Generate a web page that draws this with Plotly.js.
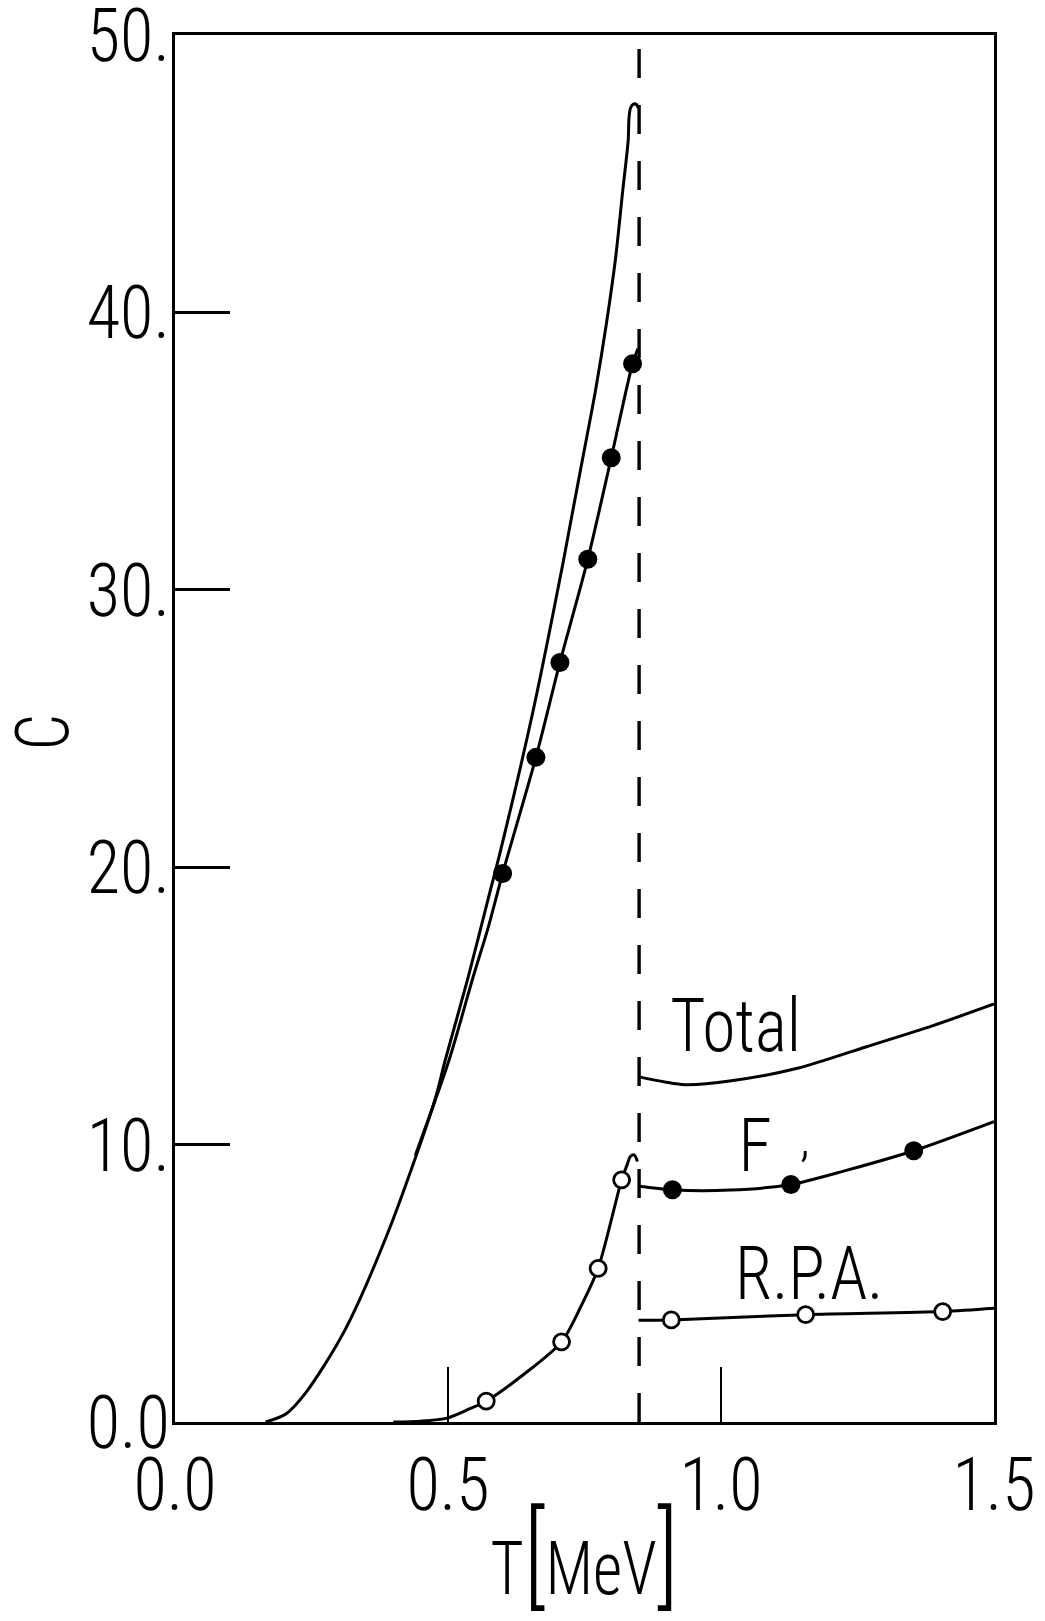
<!DOCTYPE html>
<html>
<head>
<meta charset="utf-8">
<script src="https://cdn.plot.ly/plotly-3.0.1.min.js"></script>
<style>html,body{margin:0;padding:0;background:#fff;}#chart{width:1045px;height:1621px;}</style>
</head>
<body>
<div id="chart"></div>
<script>
// ---- data ----
const totalLeftT = [0.166, 0.203, 0.240, 0.309, 0.390, 0.476, 0.495, 0.537, 0.576, 0.595, 0.656, 0.710, 0.724, 0.747, 0.770, 0.790, 0.807, 0.820, 0.830, 0.8315, 0.834, 0.839, 0.845, 0.849];
const totalLeftC = [0.0, 0.29, 1.07, 3.23, 6.83, 11.61, 13.05, 16.04, 19.05, 20.50, 25.65, 30.90, 32.37, 34.77, 37.17, 39.58, 41.97, 44.38, 46.2, 47.0, 47.35, 47.5, 47.5, 47.35];
const totalRightT = [0.848, 0.897, 0.934, 1.019, 1.142, 1.265, 1.387, 1.5];
const totalRightC = [12.45, 12.26, 12.16, 12.30, 12.76, 13.52, 14.28, 15.07];

const fLeftT = [0.44, 0.502, 0.546, 0.574, 0.600, 0.661, 0.705, 0.756, 0.799, 0.838, 0.848];
const fLeftC = [9.61, 13.05, 16.04, 17.85, 19.77, 23.96, 27.38, 31.10, 34.76, 38.15, 38.7];
const fRightT = [0.848, 0.911, 1.017, 1.128, 1.231, 1.353, 1.5];
const fRightC = [8.51, 8.37, 8.36, 8.56, 9.08, 9.78, 10.83];
const fDotsT = [0.600, 0.661, 0.705, 0.756, 0.799, 0.838, 0.911, 1.128, 1.353];
const fDotsC = [19.77, 23.96, 27.38, 31.10, 34.76, 38.15, 8.37, 8.56, 9.78];

const rpaLeftT = [0.40, 0.45, 0.498, 0.540, 0.570, 0.639, 0.708, 0.745, 0.775, 0.818, 0.828, 0.834, 0.841, 0.847];
const rpaLeftC = [0.0, 0.03, 0.14, 0.48, 0.75, 1.72, 2.89, 4.23, 5.54, 8.73, 9.27, 9.57, 9.63, 9.39];
const rpaRightT = [0.849, 0.909, 1.155, 1.406, 1.5];
const rpaRightC = [3.67, 3.68, 3.87, 3.98, 4.10];
const rpaCircT = [0.570, 0.708, 0.775, 0.818, 0.909, 1.155, 1.406];
const rpaCircC = [0.75, 2.89, 5.54, 8.73, 3.68, 3.87, 3.98];

const criticalT = [0.85, 0.85];
const criticalC = [0, 50];

const xTickVals = [0, 0.5, 1.0, 1.5];
const xTickText = ['0.0', '0.5', '1.0', '1.5'];
const yTickVals = [0, 10, 20, 30, 40, 50];
const yTickText = ['0.0', '10.', '20.', '30.', '40.', '50.'];

const curveLabels = ['Total', 'F', ',', 'R.P.A.'];
const curveLabelT = [1.027, 1.063, 1.154, 1.162];
const curveLabelC = [14.3, 9.96, 10.2, 5.37];

const xTitle = 'T<span style="font-size:112px">[</span>MeV<span style="font-size:112px">]</span>';
const yTitle = 'C';

// ---- font choice: a light, narrow sans if one is installed ----
function hasFont(name) {
  const c = document.createElement('canvas').getContext('2d');
  const s = '0.5 Total MeV R.P.A. 40.';
  c.font = '100px monospace';
  const w0 = c.measureText(s).width;
  c.font = '100px "' + name + '", monospace';
  const w1 = c.measureText(s).width;
  return Math.abs(w1 - w0) > 0.5;
}
const lightCandidates = ['Noto Sans ExtraCondensed Light', 'Noto Sans Condensed Light', 'Roboto Condensed Light',
  'DejaVu Sans ExtraLight', 'Roboto Light', 'Noto Sans Light', 'Open Sans Light', 'Lato Light', 'Inter Light'];
const lightFont = lightCandidates.find(hasFont);
const FONT = lightFont ? "'" + lightFont + "', 'DejaVu Sans Condensed', sans-serif" : "'DejaVu Sans Condensed', sans-serif";

// ---- chart ----
const lineStyle = {color: '#000', width: 3, shape: 'spline', smoothing: 0.8};
const mkFont = (s) => ({family: FONT, size: s, color: '#000'});

const traces = [
  {x: criticalT, y: criticalC, mode: 'lines', line: {color: '#000', width: 3.4, dash: '29px,27px'}},
  {x: totalLeftT, y: totalLeftC, mode: 'lines', line: lineStyle},
  {x: totalRightT, y: totalRightC, mode: 'lines', line: lineStyle},
  {x: fLeftT, y: fLeftC, mode: 'lines', line: lineStyle},
  {x: fRightT, y: fRightC, mode: 'lines', line: lineStyle},
  {x: rpaLeftT, y: rpaLeftC, mode: 'lines', line: lineStyle},
  {x: rpaRightT, y: rpaRightC, mode: 'lines', line: lineStyle},
  {x: fDotsT, y: fDotsC, mode: 'markers', marker: {symbol: 'circle', size: 19, color: '#000'}},
  {x: rpaCircT, y: rpaCircC, mode: 'markers', marker: {symbol: 'circle', size: 16, color: '#fff', line: {color: '#000', width: 2.8}}}
];

const annotations = curveLabels.map((t, i) => ({
  x: curveLabelT[i], y: curveLabelC[i], xref: 'x', yref: 'y',
  text: t, showarrow: false, xanchor: 'center', yanchor: 'middle',
  font: mkFont(t === ',' ? 50 : 74)
}));
annotations.push({
  x: -0.1612, y: 0.4975, xref: 'paper', yref: 'paper', text: yTitle, textangle: -90,
  showarrow: false, xanchor: 'center', yanchor: 'middle', font: mkFont(74)
});

const axisCommon = {
  showline: true, linecolor: '#000', linewidth: 3.4, mirror: true,
  ticks: 'inside', ticklen: 55, tickwidth: 2.8, tickcolor: '#000',
  showgrid: false, zeroline: false, fixedrange: true,
  ticklabeloverflow: 'allow',
  tickfont: mkFont(74)
};

const layout = {
  width: 1045, height: 1621,
  margin: {l: 175, r: 51, t: 35, b: 199},
  paper_bgcolor: '#fff', plot_bgcolor: '#fff',
  showlegend: false,
  font: {family: FONT, color: '#000'},
  xaxis: Object.assign({}, axisCommon, {
    range: [0, 1.5], tickvals: xTickVals, ticktext: xTickText,
    ticklabelstandoff: -4,
    title: {text: xTitle, font: mkFont(74), standoff: 0}
  }),
  yaxis: Object.assign({}, axisCommon, {
    range: [0, 50], tickvals: yTickVals, ticktext: yTickText,
    ticklabelstandoff: -13
  }),
  annotations: annotations
};

// squeeze text horizontally about its anchor, to mimic the narrow lettering
function squeeze(el, s) {
  const ax = parseFloat(el.getAttribute('x')) || 0;
  const t = el.getAttribute('transform') || '';
  el.setAttribute('transform', t + ' translate(' + ax + ',0) scale(' + s + ',1) translate(' + (-ax) + ',0)');
  if (!lightFont) { el.style.stroke = '#fff'; el.style.strokeWidth = '2.2px'; }
}

Plotly.newPlot('chart', traces, layout, {displayModeBar: false, staticPlot: true}).then(() => {
  const root = document.getElementById('chart');
  const ticks = Array.from(root.querySelectorAll('.xtick text, .ytick text'));
  const ref = ticks.find(e => e.textContent === '0.0');
  const sTick = ref ? 83 / ref.getBBox().width : 0.78;
  ticks.forEach(e => squeeze(e, sTick));

  const anns = Array.from(root.querySelectorAll('.annotation-text'));
  const totalEl = anns.find(e => e.textContent === 'Total');
  const sAnn = totalEl ? 131 / totalEl.getBBox().width : 0.86;
  anns.forEach(e => {
    if (e.textContent === yTitle) squeeze(e, sAnn * 0.95);
    else if (e.textContent === ',') { /* keep the small mark as is */ }
    else squeeze(e, sAnn);
  });

  const xt = root.querySelector('.g-xtitle text');
  if (xt) squeeze(xt, 188 / xt.getBBox().width);
});
</script>
</body>
</html>
